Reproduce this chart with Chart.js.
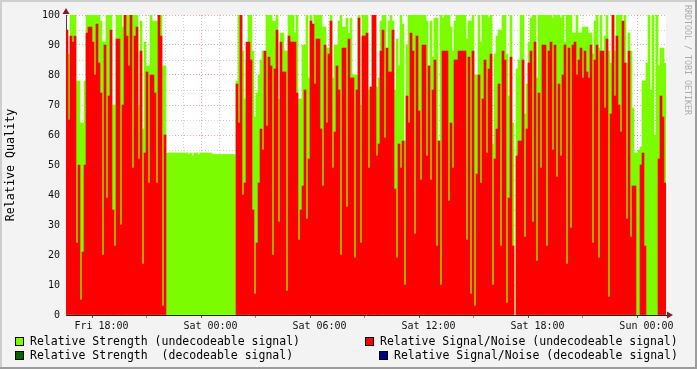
<!DOCTYPE html>
<html>
<head>
<meta charset="utf-8">
<script src="https://cdn.jsdelivr.net/npm/chart.js@4.4.0/dist/chart.umd.min.js"></script>
<style>
html, body { margin: 0; padding: 0; background: #f3f3f3; }
</style>
</head>
<body>
<canvas id="myChart" width="697" height="369"></canvas>
<script>
// hours relative to Fri 18:00, one bar every 6.4 minutes
var tMin = -1.44, tMax = 30.56
var hourTicks = []
for (var h = -1; h <= 30; h++) hourTicks.push(h)
var dayLabels = { 0: 'Fri 18:00', 6: 'Sat 00:00', 12: 'Sat 06:00', 18: 'Sat 12:00', 24: 'Sat 18:00', 30: 'Sun 00:00' }
var yTicks = []
for (var v = 0; v <= 100; v += 2.5) yTicks.push(v)

// relative strength (undecodeable), green
var strength = [
  55,87,100,100,100,78,78,64,64,78, 100,100,100,100,100,100,100,98,91,91,
  100,100,100,70,70,100,100,100,96,100, 100,100,100,100,100,100,70,98,62,91,
  83,83,100,98,98,98,100,100,83,83,
  54,54,54,54,54,54,54,54,54,54, 54,53.5,54,53,54,54,53.5,54,54,54,
  54,54,54,53.5,53.5,53.5,53.5,53.5,53.5,53.5, 53.5,53.5,53.5,53.5,53.5,
  78,100,100,88,72,85,100,100,88,66,74,80,85,88,86,
  100,100,100,98,98,100,72,94,94,88, 88,100,100,100,94,100,72,72,90,90,
  100,79,100,85,100,100,100,100,96,96, 89,89,100,79,90,90,98,100,96,96,
  99,94,99,80,80,80,100,70,100,100,
  100,75,75,100,100,76,79,98,100,100, 85,98,100,98,75,92,83,100,97,58,
  90,100,100,100,100,100,100,100,100,100, 98,83,98,86,99,99,58,100,99,100,
  100,100,96,88,98,100,100,100,100,100,
  92,98,98,100,80,80,100,91,100,100, 100,99,100,57,87,93,95,95,100,100,
  87,73,100,64,null,82,85,100,100,67, 77,91,99,100,100,79,100,100,100,100,
  100,100,100,99,100,100,100,99,100,91,
  100,100,100,94,94,100,94,94,96,96, 96,94,94,87,98,100,89,100,88,93,
  100,88,84,100,88,100,100,100,97,100, 84,94,88,69,54,54,55,56,78,78,
  84,100,75,100,60,100,83,89,89,84
]
// relative signal/noise (undecodeable), red
var snr = [
  95,65,93,91,93,24,50,5,21,50, 94,96,96,91,80,97,84,74,20,90,
  39,73,95,35,23,92,92,30,70,100, 93,83,100,49,93,96,52,88,17,54,
  81,44,80,80,74,44,100,93,3,60,
  null,null,null,null,null,null,null,null,null,null, null,null,null,null,null,null,null,null,null,null,
  null,null,null,null,null,null,null,null,null,null, null,null,null,null,null,
  77,64,100,40,44,91,91,85,35,7,24,44,62,55,88,
  63,86,83,20,82,95,31,91,81,81, 8,93,91,91,91,74,25,35,43,75,
  32,52,98,97,77,92,92,62,43,90, 64,87,98,49,61,83,75,20,89,89,
  36,92,79,79,19,75,99,24,93,93,
  94,49,76,100,100,53,57,88,95,59, 89,81,81,95,42,19,57,49,58,10,
  73,64,94,88,27,93,68,45,90,90, 53,83,45,75,85,23,58,10,88,88,
  88,38,64,49,85,85,88,88,88,88,
  25,86,7,88,3,47,80,44,72,85, 54,82,87,10,52,62,77,23,88,85,
  4,39,86,23,null,53,58,58,85,26, 62,84,88,31,91,18,74,49,90,90,
  23,88,91,55,90,46,77,53,80,90,
  17,89,29,90,91,80,85,89,79,88, 81,79,90,24,85,90,19,88,88,69,
  92,6,67,100,73,93,70,61,98,84, 32,88,26,43,43,null,null,50,54,23,
  null,null,null,null,null,null,52,73,66,44
]
// decodeable series have no values in this window
var strengthDec = []
var snrDec = []

var times = []
for (var i = 0; i < strength.length; i++) {
  var m = Math.round((tMin + (i + 0.5) * (tMax - tMin) / strength.length) * 60 + 18 * 60)
  var hh = Math.floor(m / 60) % 24, mm = m % 60
  times.push((hh < 10 ? '0' : '') + hh + ':' + (mm < 10 ? '0' : '') + mm)
}

var mono = '"DejaVu Sans Mono", monospace'
var minorGrid = 'rgba(130,130,130,0.38)'
var majorGrid = 'rgba(200,70,70,0.45)'

var rrdDecor = {
  id: 'rrdDecor',
  beforeDraw: function (chart) {
    var c = chart.ctx, a = chart.chartArea
    c.save()
    c.fillStyle = '#f3f3f3'
    c.fillRect(0, 0, chart.width, chart.height)
    c.fillStyle = '#ffffff'
    c.fillRect(a.left, a.top, a.right - a.left, a.bottom - a.top)
    c.restore()
  },
  afterDraw: function (chart) {
    var c = chart.ctx, a = chart.chartArea
    c.save()
    // frame
    c.fillStyle = '#cfcfcf'
    c.fillRect(0, 0, chart.width, 2)
    c.fillRect(0, 0, 2, chart.height)
    c.fillStyle = '#9c9c9c'
    c.fillRect(0, chart.height - 2, chart.width, 2)
    c.fillRect(chart.width - 2, 0, 2, chart.height)
    // axis arrows
    c.fillStyle = '#7f2020'
    c.beginPath()
    c.moveTo(a.right + 1, a.bottom - 3.5); c.lineTo(a.right + 1, a.bottom + 3.5); c.lineTo(a.right + 7, a.bottom)
    c.fill()
    c.beginPath()
    c.moveTo(a.left - 3.5, a.top - 1); c.lineTo(a.left + 3.5, a.top - 1); c.lineTo(a.left, a.top - 7)
    c.fill()
    // legend
    var slots = [[1, 15, 337], [2, 15, 351], [0, 365, 337], [3, 379, 351]]
    c.font = '11.5px ' + mono
    c.textBaseline = 'middle'
    slots.forEach(function (s) {
      var ds = chart.data.datasets[s[0]]
      c.fillStyle = '#000'
      c.fillRect(s[1], s[2], 9, 9)
      c.fillStyle = ds.backgroundColor
      c.fillRect(s[1] + 1, s[2] + 1, 7, 7)
      c.fillStyle = '#000'
      c.fillText(ds.label, s[1] + 15, s[2] + 5)
    })
    // watermark
    c.translate(684.5, 5)
    c.rotate(Math.PI / 2)
    c.font = '8.3px ' + mono
    c.textBaseline = 'alphabetic'
    c.fillStyle = '#ababab'
    c.fillText('RRDTOOL / TOBI OETIKER', 0, 0)
    c.restore()
  }
}

var ctx = document.getElementById('myChart').getContext('2d')
var myChart = new Chart(ctx, {
  type: 'bar',
  data: {
    labels: times,
    datasets: [
      { label: 'Relative Signal/Noise (undecodeable signal)', data: snr, backgroundColor: '#ff0000' },
      { label: 'Relative Strength (undecodeable signal)', data: strength, backgroundColor: '#7cfc00' },
      { label: 'Relative Strength  (decodeable signal)', data: strengthDec, backgroundColor: '#006400' },
      { label: 'Relative Signal/Noise (decodeable signal)', data: snrDec, backgroundColor: '#00008b' }
    ].map(function (d) {
      d.xAxisID = 'x'; d.yAxisID = 'y'; d.grouped = false
      d.barPercentage = 1; d.categoryPercentage = 1; d.borderWidth = 0
      return d
    })
  },
  options: {
    responsive: false,
    animation: false,
    layout: { padding: { left: 0, top: 15, right: 31, bottom: 0 } },
    plugins: { legend: { display: false }, tooltip: { enabled: false } },
    scales: {
      x: { type: 'category', display: false, offset: true },
      xt: {
        type: 'linear', position: 'bottom', min: tMin, max: tMax, z: 1,
        afterBuildTicks: function (s) { s.ticks = hourTicks.map(function (h) { return { value: h } }) },
        afterFit: function (s) { s.height = 54; s.paddingLeft = 0; s.paddingRight = 0 },
        grid: {
          color: function (c) { return c.tick && c.tick.value % 6 === 0 ? majorGrid : minorGrid },
          tickColor: function (c) {
            if (!c.tick) return 'rgba(0,0,0,0)'
            if (c.tick.value % 6 === 0) return '#555555'
            if (c.tick.value % 3 === 0) return 'rgba(220,70,70,0.8)'
            return 'rgba(0,0,0,0)'
          },
          tickLength: 3, lineWidth: 1
        },
        border: { color: '#202020', dash: [1, 2] },
        ticks: {
          autoSkip: false, maxRotation: 0, padding: 2, color: '#111',
          font: { family: mono, size: 10 },
          callback: function (v) { return dayLabels[v] || '' }
        }
      },
      y: {
        min: 0, max: 100, z: 1,
        afterBuildTicks: function (s) { s.ticks = yTicks.map(function (t) { return { value: t } }) },
        afterFit: function (s) { s.width = 66; s.paddingTop = 0; s.paddingBottom = 0 },
        grid: {
          color: function (c) { return c.tick && c.tick.value % 10 === 0 ? majorGrid : minorGrid },
          drawTicks: false, lineWidth: 1
        },
        border: { color: '#404040', dash: [1, 2] },
        ticks: {
          padding: 6, color: '#111',
          font: { family: mono, size: 10 },
          callback: function (v) { return v % 10 === 0 ? String(v) : '' }
        },
        title: {
          display: true, text: 'Relative Quality', color: '#000',
          font: { family: mono, size: 11.7 }, padding: { top: 4, bottom: 0 }
        }
      }
    }
  },
  plugins: [rrdDecor]
})
</script>
</body>
</html>
